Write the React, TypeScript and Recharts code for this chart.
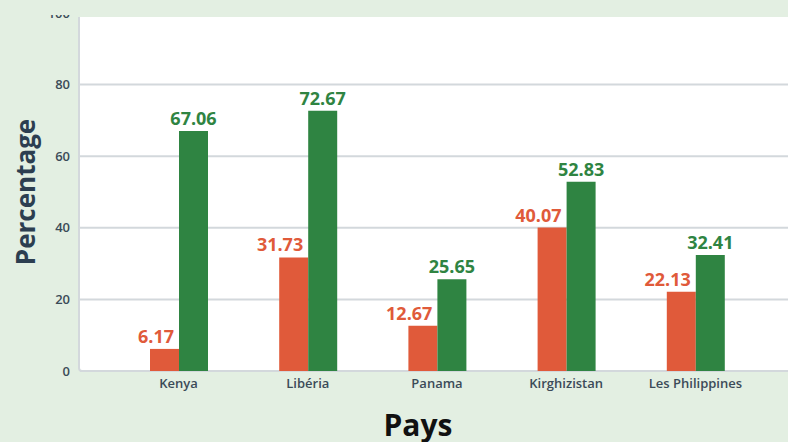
import React from "react";
import { BarChart, Bar, XAxis, YAxis, CartesianGrid, LabelList, Label } from "recharts";

const pays = ["Kenya", "Libéria", "Panama", "Kirghizistan", "Les Philippines"];
const groupe1 = [6.17, 31.73, 12.67, 40.07, 22.13];
const groupe2 = [67.06, 72.67, 25.65, 52.83, 32.41];
const yTicks = [0, 20, 40, 60, 80, 100];

const RED = "#e05a3a";
const GREEN = "#2f8442";
const BG = "#e3efe2";
const LINE = "#d3d8dc";
const FONT = "'Open Sans', sans-serif";

const data = pays.map((p, i) => ({ pays: p, groupe1: groupe1[i], groupe2: groupe2[i] }));

const makeLabel = (color: string, anchor: "end" | "middle") => (props: any) => {
  const { x, y, width, value } = props;
  const tx = anchor === "end" ? x + width - 5 : x + width / 2;
  return (
    <text x={tx} y={y - 6} textAnchor={anchor} fill={color} fontSize={18} fontWeight={700} fontFamily={FONT}>
      {Number(value).toFixed(2)}
    </text>
  );
};

export default function App() {
  return (
    <div style={{ position: "fixed", left: 0, top: 0, width: 788, height: 442, background: BG, overflow: "hidden" }}>
      <div
        style={{
          position: "absolute",
          left: 78,
          top: 10,
          width: 800,
          height: 362,
          boxSizing: "border-box",
          border: `2px solid ${LINE}`,
          borderRadius: 4,
          background: "#fff",
        }}
      />
      <div style={{ position: "absolute", left: 0, top: 0 }}>
        <BarChart
          width={788}
          height={442}
          data={data}
          margin={{ top: 13, right: 0, bottom: 1, left: 0 }}
          barGap={0}
          barSize={29}
        >
          <CartesianGrid vertical={false} stroke={LINE} strokeWidth={2} />
          <XAxis
            dataKey="pays"
            height={70}
            axisLine={false}
            tickLine={false}
            padding={{ left: 34, right: 28 }}
            tick={{ fill: "#3b4b58", fontSize: 13, fontWeight: 600, fontFamily: FONT }}
          >
            <Label
              content={() => (
                <text x={418} y={436} textAnchor="middle" fill="#111" fontSize={30} fontWeight={700} fontFamily={FONT}>
                  Pays
                </text>
              )}
            />
          </XAxis>
          <YAxis
            width={80}
            domain={[0, 100]}
            ticks={yTicks}
            axisLine={false}
            tickLine={false}
            tickMargin={4}
            tick={{ fill: "#3b4b58", fontSize: 13, fontWeight: 600, fontFamily: FONT }}
          >
            <Label
              content={() => (
                <text
                  x={25}
                  y={192}
                  transform="rotate(-90 25 192)"
                  textAnchor="middle"
                  dominantBaseline="central"
                  fill="#2c3e50"
                  fontSize={26}
                  fontWeight={700}
                  fontFamily={FONT}
                >
                  Percentage
                </text>
              )}
            />
          </YAxis>
          <Bar dataKey="groupe1" fill={RED} isAnimationActive={false}>
            <LabelList dataKey="groupe1" content={makeLabel(RED, "end")} />
          </Bar>
          <Bar dataKey="groupe2" fill={GREEN} isAnimationActive={false}>
            <LabelList dataKey="groupe2" content={makeLabel(GREEN, "middle")} />
          </Bar>
        </BarChart>
      </div>
      <div style={{ position: "absolute", left: 0, top: 0, width: 788, height: 15, background: BG }} />
      <div style={{ position: "absolute", left: 78, top: 15, width: 710, height: 2, background: BG }} />
    </div>
  );
}
